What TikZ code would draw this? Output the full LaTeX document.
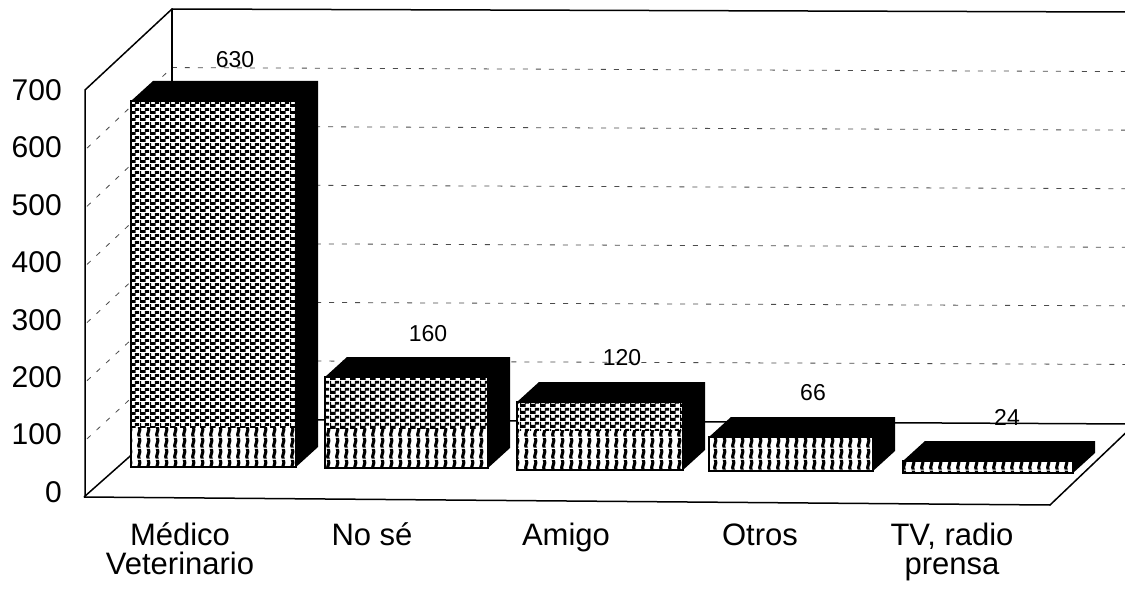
\documentclass[tikz,border=0pt]{standalone}
\usepackage{fontspec}
\setmainfont{Liberation Sans}
\usetikzlibrary{patterns}

\pgfdeclarepatternformonly{brickdash}{\pgfpointorigin}{\pgfqpoint{10pt}{6.5pt}}{\pgfqpoint{10pt}{6.5pt}}{%
  \pgfpathrectangle{\pgfqpoint{0.2pt}{0.2pt}}{\pgfqpoint{6pt}{3pt}}%
  \pgfpathrectangle{\pgfqpoint{5.2pt}{3.45pt}}{\pgfqpoint{4.8pt}{3pt}}%
  \pgfpathrectangle{\pgfqpoint{0pt}{3.45pt}}{\pgfqpoint{1.2pt}{3pt}}%
  \pgfusepath{fill}%
}
\pgfdeclarepatternformonly{wavy}{\pgfpointorigin}{\pgfqpoint{9pt}{11pt}}{\pgfqpoint{9pt}{11pt}}{%
  \pgfpathmoveto{\pgfqpoint{3pt}{0.3pt}}%
  \pgfpathcurveto{\pgfqpoint{0.3pt}{3.5pt}}{\pgfqpoint{5.5pt}{6.5pt}}{\pgfqpoint{3pt}{10.7pt}}%
  \pgfpathlineto{\pgfqpoint{6.5pt}{10.7pt}}%
  \pgfpathcurveto{\pgfqpoint{9pt}{6.5pt}}{\pgfqpoint{3.8pt}{3.5pt}}{\pgfqpoint{6.5pt}{0.3pt}}%
  \pgfpathclose
  \pgfusepath{fill}%
}

\tikzset{
  frame/.style={line width=1.5pt, black},
  gridl/.style={line width=0.8pt, black!70, dash pattern=on 5pt off 8pt},
  ylab/.style={anchor=east, inner sep=0pt, font=\fontsize{30}{32}\selectfont},
  clab/.style={anchor=base, inner sep=0pt, font=\fontsize{31}{29}\selectfont},
  vlab/.style={inner sep=0pt, font=\fontsize{23}{25}\selectfont},
}

\begin{document}
\begin{tikzpicture}[x=1pt, y=-1pt]
\useasboundingbox (0,0) rectangle (1125,591);
\fill[white] (0,0) rectangle (1125,591);
\begin{scope}
\clip (0,0) rectangle (1125,591);
% grid lines on left and back walls
\foreach \k in {1,...,6}{
  \draw[gridl] (87,{497-58.14*\k}) -- (172,{419-58.57*\k}) -- (1125,{423-58.57*\k});
}
% floor
\draw[frame] (84,497) -- (172,419) -- (1135,424);
\draw[frame] (84,497) -- (1050,505) -- (1135,424);
% walls
\draw[frame] (85,497) -- (85,90) -- (172,9) -- (1125,12);
\draw[frame] (172,9) -- (172,419);
% bars
\foreach \L/\R/\T/\B in {131/296/101/467, 325/488/377/468, 517/683/402/470, 709/873/437/471, 903/1073/461/473}{
  \fill[black] (\L,\T) -- ({\L+22},{\T-20}) -- ({\R+22},{\T-20}) -- ({\R+22},{\B-20}) -- (\R,\B) -- (\R,\T) -- cycle;
  \pgfmathsetmacro\W{max(\T,\B-40)}
  \fill[white] (\L,\T) rectangle (\R,\B);
  \fill[pattern=brickdash] (\L,\T) rectangle (\R,\W);
  \fill[pattern=wavy] (\L,\W) rectangle (\R,\B);
  \draw[line width=1.3pt] (\L,\T) rectangle (\R,\B);
}
\end{scope}
% value labels
\node[vlab] (v1) at (235,60) {630};
\node[vlab] (v2) at (428,334) {160};
\node[vlab] (v3) at (622,358) {120};
\node[vlab] (v4) at (813,393) {66};
\node[vlab] (v5) at (1007,417) {24};
% y axis labels
\foreach \v [count=\i from 0] in {0,100,200,300,400,500,600,700}{
  \node[ylab] (y\i) at (62,{492-57.4*\i}) {\v};
}
% category labels
\node[clab] (c1a) at (180,545) {Médico};
\node[clab] (c1b) at (180,574) {Veterinario};
\node[clab] (c2) at (372,545) {No sé};
\node[clab] (c3) at (566,545) {Amigo};
\node[clab] (c4) at (760,545) {Otros};
\node[clab] (c5a) at (952,545) {TV, radio};
\node[clab] (c5b) at (952,574) {prensa};
\end{tikzpicture}
\end{document}
